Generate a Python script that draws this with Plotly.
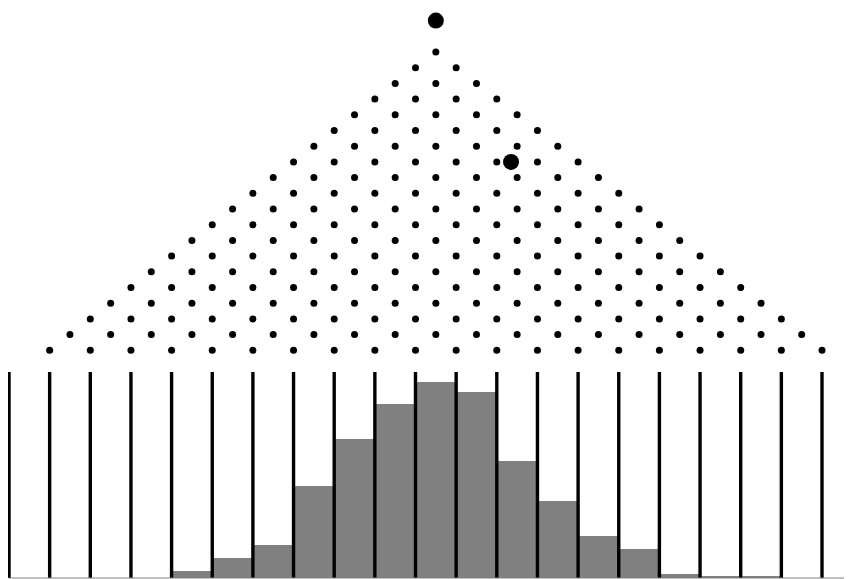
import plotly.graph_objects as go

# Data
bin_index = list(range(20))
bin_counts = [0, 0, 0, 0, 7, 20, 33, 92, 139, 174, 196, 186, 117, 77, 42, 29, 4, 1.3, 1.3, 0]
n_rows = 20
ball_x = [10.5, 12.35]
ball_row = [-2.0, 7.0]

# Geometry (layout)
ROW_H = 15.7
TOP_Y = 578 - 52
WALL_TOP = 206

peg_x, peg_y = [], []
for r in range(n_rows):
    for j in range(r + 1):
        peg_x.append(10.5 - r / 2 + j)
        peg_y.append(TOP_Y - ROW_H * r)

wall_x, wall_y = [], []
for k in range(len(bin_index) + 1):
    wall_x += [k, k, None]
    wall_y += [0, WALL_TOP, None]

fig = go.Figure()
fig.add_trace(go.Bar(x=[i + 0.5 for i in bin_index], y=bin_counts, width=1,
                     marker=dict(color="#808080", line=dict(width=0)),
                     hoverinfo="skip"))
fig.add_trace(go.Scatter(x=wall_x, y=wall_y, mode="lines",
                         line=dict(color="black", width=3.4), hoverinfo="skip"))
fig.add_trace(go.Scatter(x=peg_x, y=peg_y, mode="markers",
                         marker=dict(color="black", size=7), hoverinfo="skip"))
fig.add_trace(go.Scatter(x=ball_x, y=[TOP_Y - ROW_H * r for r in ball_row], mode="markers",
                         marker=dict(color="black", size=16), hoverinfo="skip"))
fig.add_shape(type="line", x0=0, x1=21, y0=0, y1=0,
              line=dict(color="#808080", width=1))

px_per_unit = 40.65
# page body has an 8px default margin; compensate in axis ranges
fig.update_layout(
    width=852, height=579,
    margin=dict(l=0, r=0, t=0, b=0),
    paper_bgcolor="white", plot_bgcolor="white",
    showlegend=False, bargap=0,
    xaxis=dict(range=[-1 / px_per_unit, (852 - 1) / px_per_unit], visible=False),
    yaxis=dict(range=[-9, 570], visible=False),
)
fig.write_html("out.html")
